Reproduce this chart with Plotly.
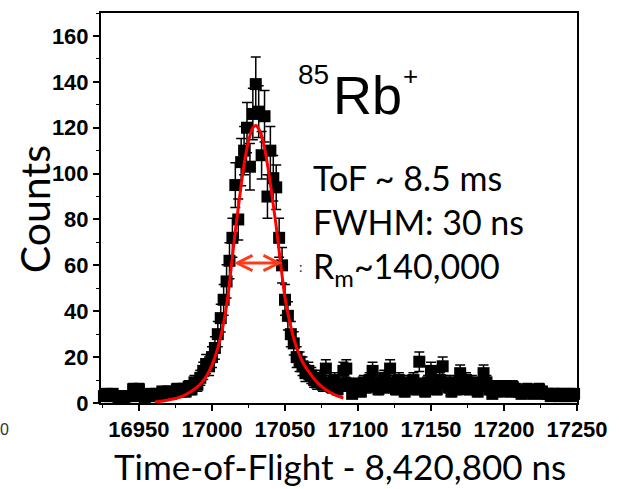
import plotly.graph_objects as go

# ---------------- data ----------------
bin_start = 16926      # first bin centre (ns)
bin_width = 2          # bin width (ns)
counts = [
    3, 4, 3, 4, 3, 2, 3, 2, 3, 3,
    6, 5, 6, 3, 2, 3, 4, 3, 4, 3,
    5, 4, 5, 4, 5, 6, 5, 6, 5, 7,
    6, 9, 8, 11, 14, 17, 16, 20, 24, 30,
    37, 45, 53, 62, 72, 95, 80, 105, 110, 120,
    103, 126, 139, 127, 108, 125, 90, 110, 98, 94,
    72, 60, 45, 38, 30, 26, 20, 18, 16, 13,
    14, 12, 10, 9, 11, 8, 15, 9, 7, 10,
    6, 8, 14, 15, 8, 4, 7, 8, 5, 9,
    7, 10, 14, 8, 6, 9, 11, 7, 15, 9,
    6, 10, 8, 5, 9, 7, 10, 6, 18, 8,
    5, 9, 14, 8, 6, 10, 16, 9, 7, 5,
    9, 6, 13, 8, 10, 6, 9, 7, 5, 8,
    13, 9, 6, 4, 7, 5, 6, 7, 6, 5,
    7, 6, 5, 4, 5, 6, 5, 4, 5, 6,
    5, 4, 4, 3, 4, 4, 3, 4, 3, 4,
    3, 4,
]

fit_x = [16961, 16970, 16980, 16990, 16995, 17000, 17004, 17008, 17011, 17013,
         17016, 17019, 17022, 17025, 17028, 17030, 17032, 17035, 17038, 17041,
         17044, 17047, 17050, 17053, 17057, 17062, 17067, 17072, 17078, 17085, 17090]
fit_y = [0.4, 1.3, 3.0, 7.0, 10.5, 16.5, 24, 35, 47, 58,
         75, 90, 104, 114, 120, 121, 119.5, 114, 104, 91,
         77, 61, 46, 36, 26, 18, 13, 9, 5.8, 3.3, 2.2]

fwhm_left = 17014
fwhm_right = 17048
half_max = 61

x_ticks = [16950, 17000, 17050, 17100, 17150, 17200, 17250]
y_ticks = [0, 20, 40, 60, 80, 100, 120, 140, 160]

# ---------------- layout geometry ----------------
W, H = 619, 489
L, R, T, B = 101, 33, 11, 86
PW, PH = W - L - R, H - T - B


def paper(px, py):
    return (px - L) / PW, (T + PH - py) / PH


fig = go.Figure()

fig.add_trace(go.Scatter(
    y=counts, x0=bin_start, dx=bin_width,
    mode="markers",
    marker=dict(symbol="square", size=12, color="black"),
    error_y=dict(type="sqrt", color="black", thickness=1.5, width=5),
    showlegend=False, cliponaxis=False,
))

fig.add_trace(go.Scatter(
    x=fit_x, y=fit_y, mode="lines",
    line=dict(color="#ff0000", width=3, shape="spline", smoothing=1.0),
    showlegend=False,
))

axis_common = dict(
    showline=True, linecolor="black", linewidth=2, mirror=True,
    ticks="outside", ticklen=6, tickwidth=1.5, tickcolor="black",
    showgrid=False, zeroline=False, tickformat="d",
    tickfont=dict(family="Liberation Sans", size=22, color="black", weight="bold"),
)

fig.update_xaxes(range=[16924, 17250], tickvals=x_ticks,
                 minor=dict(dtick=25, tick0=16925, ticks="outside", ticklen=3,
                            tickcolor="black", tickwidth=1.2),
                 **axis_common)
fig.update_yaxes(range=[0, 170], tickvals=y_ticks,
                 minor=dict(dtick=10, tick0=0, ticks="outside", ticklen=3,
                            tickcolor="black", tickwidth=1.2),
                 **axis_common)

ann = []
# FWHM double arrow
ann.append(dict(x=fwhm_right, y=half_max, ax=fwhm_left, ay=half_max,
                xref="x", yref="y", axref="x", ayref="y", text="",
                showarrow=True, arrowhead=5, startarrowhead=5,
                arrowside="end+start", arrowwidth=3, arrowsize=1,
                startarrowsize=1, arrowcolor="#ff3a1a", standoff=0, startstandoff=0))

# axis titles
gx, gy = paper(34, 208)
ann.append(dict(x=gx, y=gy, xref="paper", yref="paper", text="Counts",
                textangle=-90, showarrow=False, xanchor="center", yanchor="middle",
                font=dict(family="Lato", size=41, color="black")))
tx, ty = paper(345, 466)
ann.append(dict(x=tx, y=ty, xref="paper", yref="paper",
                text="Time-of-Flight - 8,420,800 ns", showarrow=False,
                xanchor="center", yanchor="middle",
                font=dict(family="Lato", size=35, color="black")))

# 85Rb+
px_, py_ = paper(334, 73)
ann.append(dict(x=px_, y=py_, xref="paper", yref="paper", text="85",
                showarrow=False, xanchor="right", yanchor="middle", borderpad=0,
                font=dict(family="Liberation Sans", size=28, color="black")))
px_, py_ = paper(336, 93)
ann.append(dict(x=px_, y=py_, xref="paper", yref="paper", text="Rb",
                showarrow=False, xanchor="left", yanchor="middle", borderpad=0,
                font=dict(family="Liberation Sans", size=54, color="black")))
px_, py_ = paper(408, 74)
ann.append(dict(x=px_, y=py_, xref="paper", yref="paper", text="+",
                showarrow=False, xanchor="left", yanchor="middle", borderpad=0,
                font=dict(family="Liberation Sans", size=26, color="black")))

# info text
px_, py_ = paper(315, 224)
ann.append(dict(x=px_, y=py_, xref="paper", yref="paper",
                text="ToF ~ 8.5 ms<br>FWHM: 30 ns<br>R<sub>m</sub>~140,000",
                showarrow=False, xanchor="left", yanchor="middle", align="left",
                font=dict(family="Lato", size=34, color="black")))

# small cropped fragments present in the reference
px_, py_ = paper(305, 266)
ann.append(dict(x=px_, y=py_, xref="paper", yref="paper", text=":",
                showarrow=False, xanchor="center", yanchor="middle",
                font=dict(family="Lato", size=14, color="#333333")))
px_, py_ = paper(3, 430)
ann.append(dict(x=px_, y=py_, xref="paper", yref="paper", text="0",
                showarrow=False, xanchor="center", yanchor="middle",
                font=dict(family="Liberation Sans", size=16, color="#333333")))

fig.update_layout(
    width=W, height=H,
    margin=dict(l=L, r=R, t=T, b=B, pad=0),
    paper_bgcolor="white", plot_bgcolor="white",
    annotations=ann, showlegend=False,
)

fig.write_html("out.html")
